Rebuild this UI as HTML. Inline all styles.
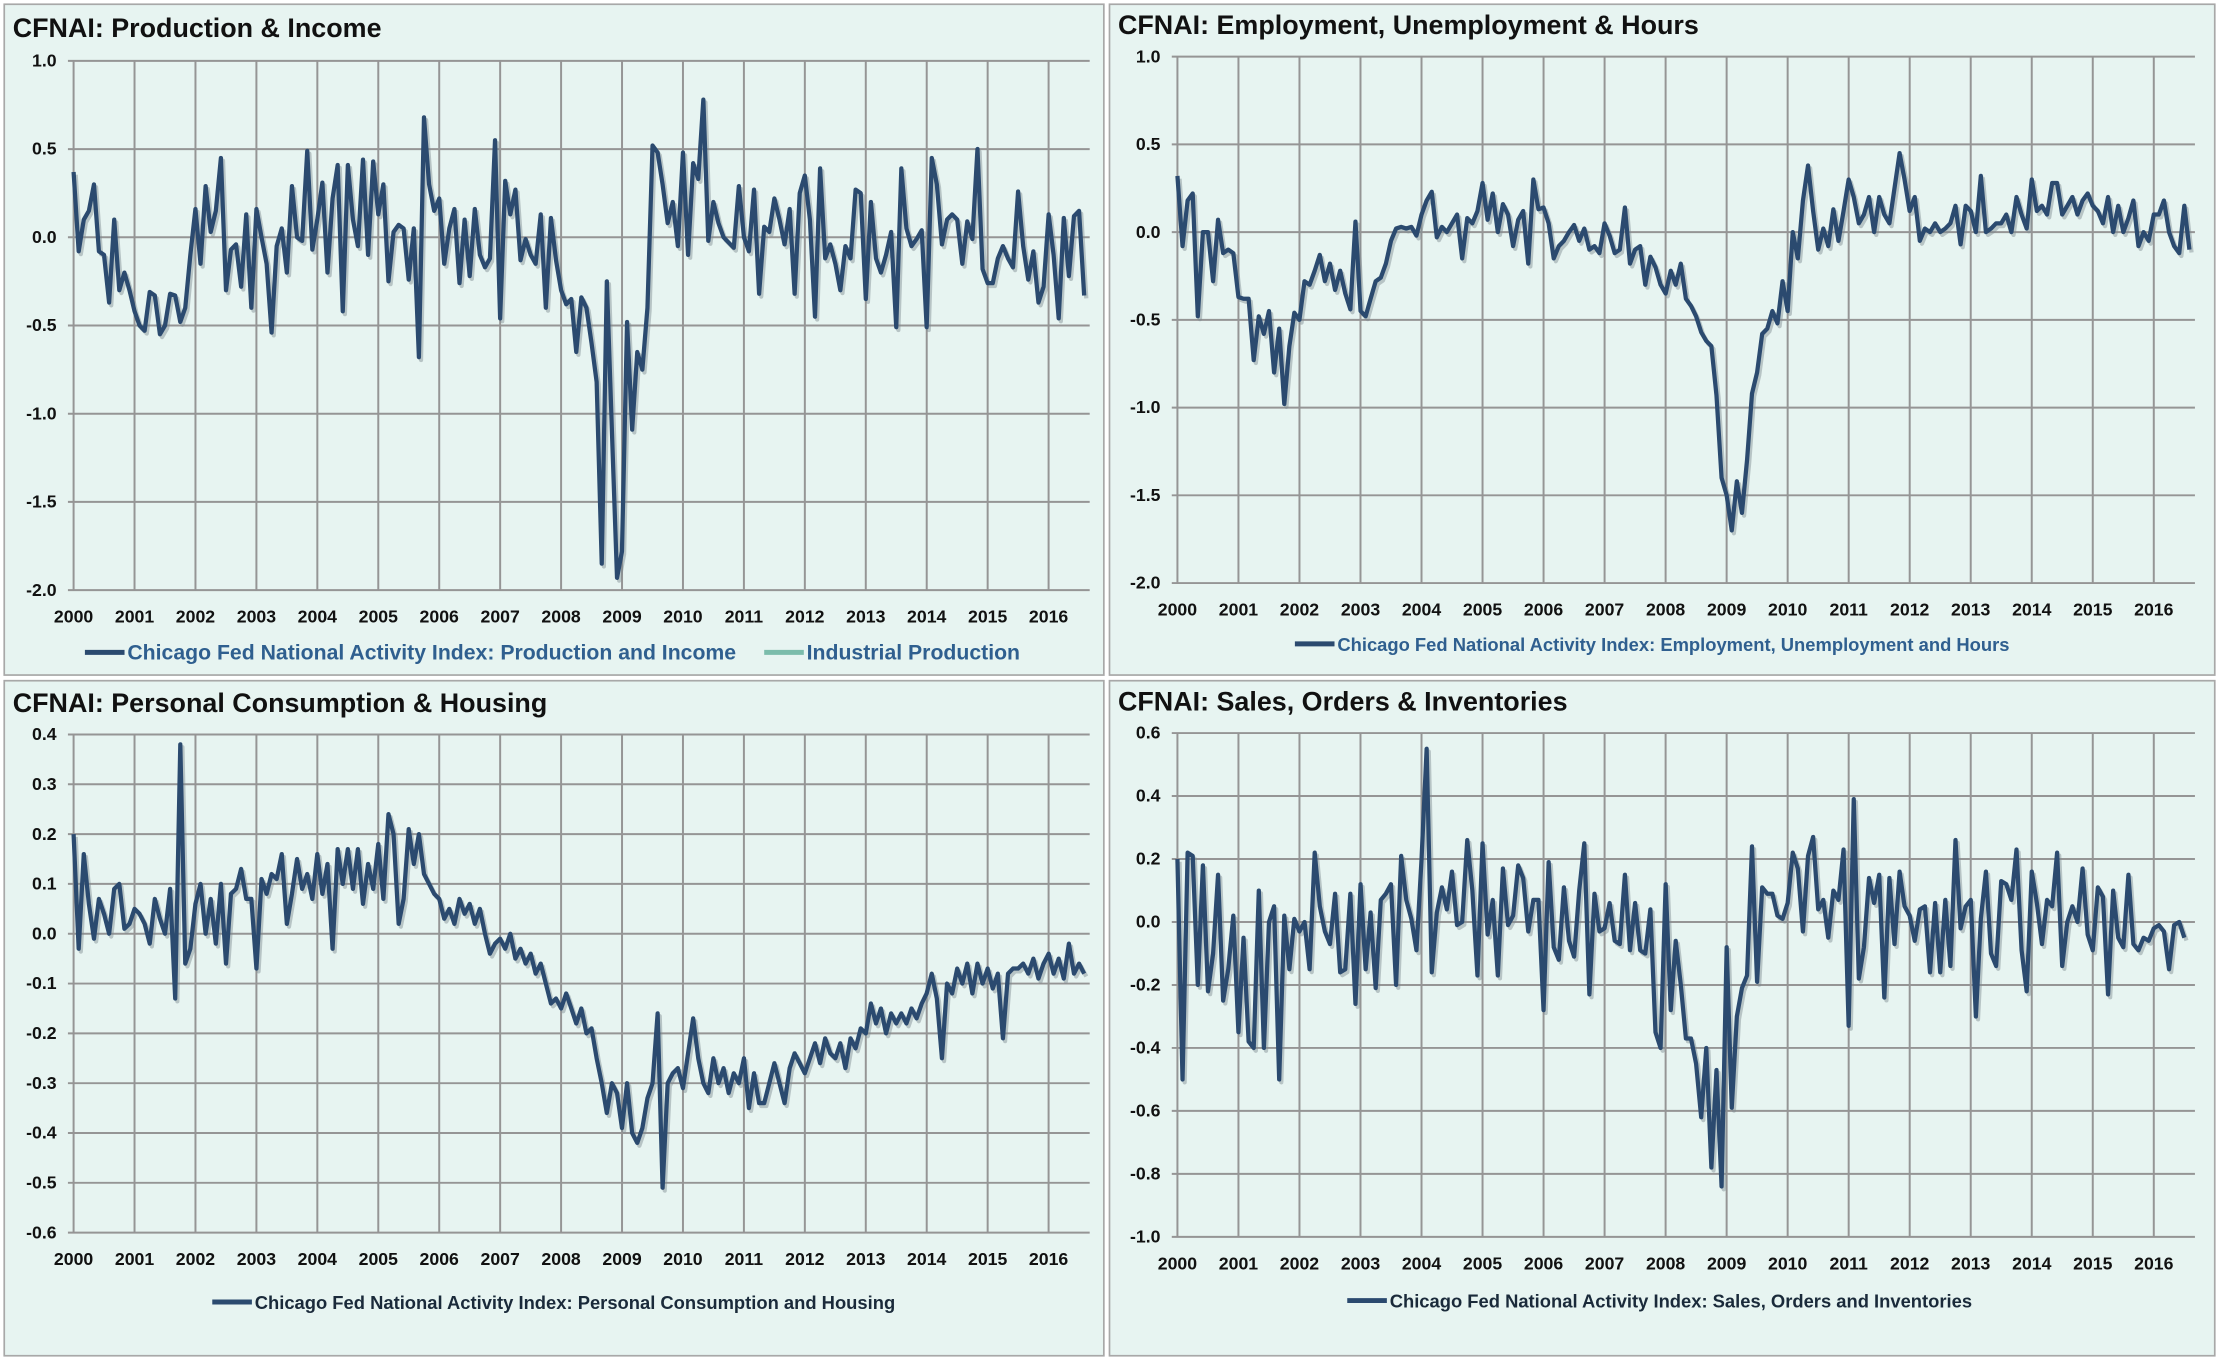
<!DOCTYPE html>
<html><head><meta charset="utf-8">
<style>
html,body{margin:0;padding:0;background:#fff;}
svg{display:block;}
text{font-family:"Liberation Sans Narrow","Liberation Sans",sans-serif;}
</style></head>
<body>
<svg id="root" width="2219" height="1360" viewBox="0 0 1568 961" xmlns="http://www.w3.org/2000/svg"></svg>
<script>
const years = ["2000","2001","2002","2003","2004","2005","2006","2007","2008","2009","2010","2011","2012","2013","2014","2015","2016"];
const prodIncome = [
0.37,-0.08,0.10,0.15,0.30,-0.08,-0.10,-0.37,0.10,-0.30,-0.20,
-0.30,-0.42,-0.50,-0.53,-0.31,-0.33,-0.55,-0.50,-0.32,-0.33,-0.48,
-0.40,-0.10,0.16,-0.15,0.29,0.03,0.15,0.45,-0.30,-0.07,-0.04,-0.28,
0.13,-0.40,0.16,0.00,-0.15,-0.54,-0.05,0.05,-0.20,0.29,0.00,
-0.02,0.49,-0.07,0.10,0.31,-0.20,0.22,0.41,-0.42,0.41,0.10,-0.05,
0.44,-0.10,0.43,0.13,0.30,-0.25,0.03,0.07,0.05,-0.24,0.05,-0.68,
0.68,0.30,0.15,0.22,-0.15,0.05,0.16,-0.26,0.10,-0.22,0.16,-0.10,
-0.17,-0.12,0.55,-0.46,0.32,0.13,0.27,-0.13,-0.01,-0.10,-0.15,0.13,
-0.40,0.11,-0.13,-0.30,-0.38,-0.35,-0.65,-0.34,-0.40,-0.60,-0.82,-1.85,
-0.25,-1.10,-1.93,-1.78,-0.48,-1.09,-0.65,-0.75,-0.40,0.52,0.48,0.30,
0.08,0.20,-0.05,0.48,-0.10,0.42,0.33,0.78,-0.02,0.20,0.08,0.00,
-0.03,-0.06,0.29,0.00,-0.08,0.27,-0.32,0.06,0.03,0.22,0.10,-0.04,
0.16,-0.32,0.25,0.35,0.10,-0.45,0.39,-0.12,-0.04,-0.15,-0.30,-0.05,
-0.12,0.27,0.25,-0.35,0.20,-0.12,-0.20,-0.10,0.03,-0.51,0.39,0.05,
-0.05,-0.01,0.04,-0.51,0.45,0.30,-0.04,0.10,0.13,0.10,-0.15,0.09,
-0.01,0.50,-0.18,-0.26,-0.26,-0.12,-0.05,-0.12,-0.17,0.26,-0.05,-0.24,
-0.08,-0.37,-0.28,0.13,-0.10,-0.46,0.11,-0.22,0.12,0.15,-0.33];
const employment = [
0.32,-0.08,0.18,0.22,-0.48,0.00,0.00,-0.28,0.07,-0.12,-0.10,-0.12,
-0.37,-0.38,-0.38,-0.73,-0.48,-0.58,-0.45,-0.80,-0.55,-0.98,-0.65,-0.46,
-0.50,-0.28,-0.30,-0.22,-0.13,-0.28,-0.18,-0.33,-0.22,-0.35,-0.44,0.06,
-0.45,-0.48,-0.38,-0.28,-0.26,-0.18,-0.05,0.02,0.03,0.02,0.03,-0.02,
0.10,0.18,0.23,-0.03,0.03,0.00,0.05,0.10,-0.15,0.08,0.05,0.12,
0.28,0.07,0.22,0.00,0.16,0.10,-0.08,0.07,0.12,-0.18,0.30,0.13,
0.14,0.05,-0.15,-0.08,-0.05,0.00,0.04,-0.05,0.02,-0.10,-0.08,-0.12,
0.05,-0.02,-0.12,-0.10,0.14,-0.18,-0.10,-0.08,-0.30,-0.14,-0.20,-0.30,
-0.35,-0.22,-0.30,-0.18,-0.38,-0.42,-0.48,-0.57,-0.62,-0.65,-0.93,-1.40,
-1.50,-1.70,-1.42,-1.60,-1.30,-0.92,-0.80,-0.58,-0.55,-0.45,-0.52,-0.28,
-0.45,0.00,-0.15,0.18,0.38,0.12,-0.10,0.02,-0.08,0.13,-0.05,0.12,
0.30,0.20,0.05,0.10,0.20,0.00,0.20,0.10,0.05,0.25,
0.45,0.30,0.12,0.20,-0.05,0.02,0.00,0.05,0.00,0.02,0.05,0.15,
-0.07,0.15,0.12,0.00,0.32,0.00,0.02,0.05,0.05,0.10,0.00,0.20,
0.10,0.02,0.30,0.12,0.15,0.10,0.28,0.28,0.10,0.15,0.20,0.10,
0.18,0.22,0.15,0.12,0.05,0.20,0.00,0.15,0.00,0.08,0.18,-0.08,
0.00,-0.05,0.10,0.10,0.18,0.00,-0.08,-0.12,0.15,-0.10];
const consumption = [
0.20,-0.03,0.16,0.06,-0.01,0.07,0.04,0.00,0.09,0.10,0.01,0.02,
0.05,0.04,0.02,-0.02,0.07,0.03,0.00,0.09,-0.13,0.38,-0.06,-0.03,
0.06,0.10,0.00,0.07,-0.02,0.10,-0.06,0.08,0.09,0.13,0.07,0.07,
-0.07,0.11,0.08,0.12,0.11,0.16,0.02,0.08,0.15,0.09,0.12,0.07,
0.16,0.08,0.14,-0.03,0.17,0.10,0.17,0.09,0.17,0.06,0.14,0.09,
0.18,0.07,0.24,0.20,0.02,0.07,0.21,0.14,0.20,0.12,0.10,0.08,
0.07,0.03,0.05,0.02,0.07,0.04,0.06,0.02,0.05,0.00,-0.04,-0.02,
-0.01,-0.03,0.00,-0.05,-0.03,-0.06,-0.04,-0.08,-0.06,-0.10,-0.14,-0.13,
-0.15,-0.12,-0.15,-0.18,-0.15,-0.20,-0.19,-0.25,-0.30,-0.36,-0.30,-0.32,
-0.39,-0.30,-0.40,-0.42,-0.39,-0.33,-0.30,-0.16,-0.51,-0.30,-0.28,-0.27,
-0.31,-0.24,-0.17,-0.25,-0.30,-0.32,-0.25,-0.30,-0.27,-0.32,-0.28,-0.30,
-0.25,-0.35,-0.28,-0.34,-0.34,-0.30,-0.26,-0.30,-0.34,-0.27,-0.24,-0.26,
-0.28,-0.25,-0.22,-0.26,-0.21,-0.24,-0.25,-0.22,-0.27,-0.21,-0.23,-0.19,
-0.20,-0.14,-0.18,-0.15,-0.20,-0.16,-0.18,-0.16,-0.18,-0.15,-0.17,-0.14,
-0.12,-0.08,-0.13,-0.25,-0.10,-0.12,-0.07,-0.10,-0.06,-0.12,-0.06,-0.10,
-0.07,-0.11,-0.08,-0.21,-0.08,-0.07,-0.07,-0.06,-0.08,-0.05,-0.09,-0.06,
-0.04,-0.08,-0.05,-0.09,-0.02,-0.08,-0.06,-0.08];
const sales = [
0.20,-0.50,0.22,0.21,-0.20,0.18,-0.22,-0.10,0.15,-0.25,-0.15,0.02,
-0.35,-0.05,-0.38,-0.40,0.10,-0.40,0.00,0.05,-0.50,0.02,-0.15,0.01,
-0.03,0.00,-0.15,0.22,0.05,-0.03,-0.07,0.09,-0.16,-0.15,0.09,-0.26,
0.12,-0.15,0.03,-0.21,0.07,0.09,0.12,-0.20,0.21,0.07,0.01,-0.09,
0.20,0.55,-0.16,0.03,0.11,0.04,0.16,-0.01,0.00,0.26,0.10,-0.17,
0.25,-0.04,0.07,-0.17,0.17,-0.01,0.02,0.18,0.14,-0.03,0.07,0.07,
-0.28,0.19,-0.08,-0.12,0.11,-0.06,-0.11,0.10,0.25,-0.23,0.09,-0.03,
-0.02,0.06,-0.06,-0.07,0.15,-0.09,0.06,-0.09,-0.10,0.04,-0.35,-0.40,
0.12,-0.28,-0.06,-0.20,-0.37,-0.37,-0.45,-0.62,-0.40,-0.78,-0.47,-0.84,-0.08,-0.59,
-0.30,-0.21,-0.17,0.24,-0.19,0.11,0.09,0.09,0.02,0.01,0.06,0.22,
0.17,-0.03,0.21,0.27,0.04,0.07,-0.05,0.10,0.07,0.23,-0.33,0.39,
-0.18,-0.08,0.14,0.06,0.15,-0.24,0.14,-0.07,0.16,0.05,0.02,-0.06,
0.04,0.05,-0.16,0.06,-0.16,0.07,-0.14,0.26,-0.02,0.05,0.07,-0.30,
0.01,0.16,-0.10,-0.14,0.13,0.12,0.07,0.23,-0.09,-0.22,0.16,0.06,
-0.07,0.07,0.05,0.22,-0.14,0.00,0.05,0.00,0.17,-0.04,-0.09,0.11,
0.08,-0.23,0.10,-0.05,-0.08,0.15,-0.07,-0.09,-0.05,-0.06,-0.02,-0.01,
-0.03,-0.15,-0.01,0.00,-0.05];
const ticksProd = ["1.0","0.5","0.0","-0.5","-1.0","-1.5","-2.0"];
const ticksEmp = ["1.0","0.5","0.0","-0.5","-1.0","-1.5","-2.0"];
const ticksCons = ["0.4","0.3","0.2","0.1","0.0","-0.1","-0.2","-0.3","-0.4","-0.5","-0.6"];
const ticksSales = ["0.6","0.4","0.2","0.0","-0.2","-0.4","-0.6","-0.8","-1.0"];

const NS="http://www.w3.org/2000/svg";
const root=document.getElementById('root');
function mk(tag,attrs,parent){const e=document.createElementNS(NS,tag);for(const k in attrs)e.setAttribute(k,attrs[k]);parent.appendChild(e);return e;}
const LINE="#2b4a6f";

function panel(p){
  const g=mk('g',{},root);
  
  
  const bg=mk('rect',{x:p.bx,y:p.by,width:p.bw,height:p.bh,fill:"#e7f4f1",stroke:"#a8a8a8","stroke-width":1.2},g);
  
  
  const t=mk('text',{x:p.bx+6,y:p.ty,"font-size":19,"font-weight":"bold",fill:"#111"},g);
  t.textContent=p.title;
  
  
  const ymax=parseFloat(p.ticks[0]), ymin=parseFloat(p.ticks[p.ticks.length-1]);
  const ys=v=>p.y0+(ymax-v)/(ymax-ymin)*(p.y1-p.y0);
  const xs=d=>p.x0+(d-2000)*p.xstep;
  p.ticks.forEach(lbl=>{
    const v=parseFloat(lbl);
    const gl=mk('line',{x1:p.x0-4,x2:p.xr,y1:ys(v),y2:ys(v),stroke:"#959595","stroke-width":1.4},g);
    
    
    const tl=mk('text',{x:p.x0-12,y:ys(v)+4,"font-size":12.5,"font-weight":"bold","text-anchor":"end",fill:"#111"},g);
    tl.textContent=lbl;
    
    
  });
  years.forEach(y=>{
    const x=xs(parseInt(y));
    const vl=mk('line',{x1:x,x2:x,y1:p.y0,y2:p.y1,stroke:"#959595","stroke-width":1.4},g);
    
    
    const xl=mk('text',{x:x,y:p.y1+23,"font-size":12.5,"font-weight":"bold","text-anchor":"middle",fill:"#111"},g);
    xl.textContent=y;
    
    
  });
  const pts=p.data.map((v,i)=>xs(2000+i/12).toFixed(1)+","+ys(v).toFixed(1)).join(" ");
  const sh=mk('polyline',{points:pts,fill:"none",stroke:"#7c8a90","stroke-opacity":0.45,"stroke-width":3,"stroke-linejoin":"round",transform:"translate(1.5,2)"},g);
  
  
  const ln=mk('polyline',{points:pts,fill:"none",stroke:LINE,"stroke-width":3,"stroke-linejoin":"round"},g);
  
  
  p.legend.forEach(L=>{
    const ll=mk('line',{x1:L.x,x2:L.x+28,y1:p.ly-4,y2:p.ly-4,stroke:L.c,"stroke-width":3.5},g);
    
    
    const lt=mk('text',{x:L.x+30,y:p.ly+1,"font-size":L.fs,"font-weight":"bold",fill:L.tc},g);
    lt.textContent=L.t;
    
    
  });
}
panel({name:'production-income-chart',bx:3,by:3,bw:777,bh:474,ty:26,title:"CFNAI:  Production & Income",
  x0:52,xstep:43.06,xr:770,y0:43,y1:417,ticks:ticksProd,data:prodIncome,ly:465,
  legend:[{x:60,c:LINE,tc:"#2f5f8f",fs:15,t:"Chicago Fed National Activity Index: Production and Income"},
          {x:540,c:"#7bbcab",tc:"#2f5f8f",fs:15,t:"Industrial Production"}]});
panel({name:'employment-chart',bx:784,by:3,bw:781,bh:474,ty:24,title:"CFNAI:  Employment, Unemployment & Hours",
  x0:832,xstep:43.12,xr:1551,y0:40,y1:412,ticks:ticksEmp,data:employment,ly:459,
  legend:[{x:915,c:LINE,tc:"#2f5f8f",fs:13,t:"Chicago Fed National Activity Index: Employment, Unemployment and Hours"}]});
panel({name:'consumption-housing-chart',bx:3,by:481,bw:777,bh:477,ty:503,title:"CFNAI:  Personal Consumption & Housing",
  x0:52,xstep:43.06,xr:770,y0:519,y1:871,ticks:ticksCons,data:consumption,ly:924,
  legend:[{x:150,c:LINE,tc:"#1a2a3a",fs:13,t:"Chicago Fed National Activity Index: Personal Consumption and Housing"}]});
panel({name:'sales-orders-chart',bx:784,by:481,bw:781,bh:477,ty:502,title:"CFNAI:  Sales, Orders & Inventories",
  x0:832,xstep:43.12,xr:1551,y0:518,y1:874,ticks:ticksSales,data:sales,ly:923,
  legend:[{x:952,c:LINE,tc:"#1a2a3a",fs:13,t:"Chicago Fed National Activity Index: Sales, Orders and Inventories"}]});
</script>
</body></html>
